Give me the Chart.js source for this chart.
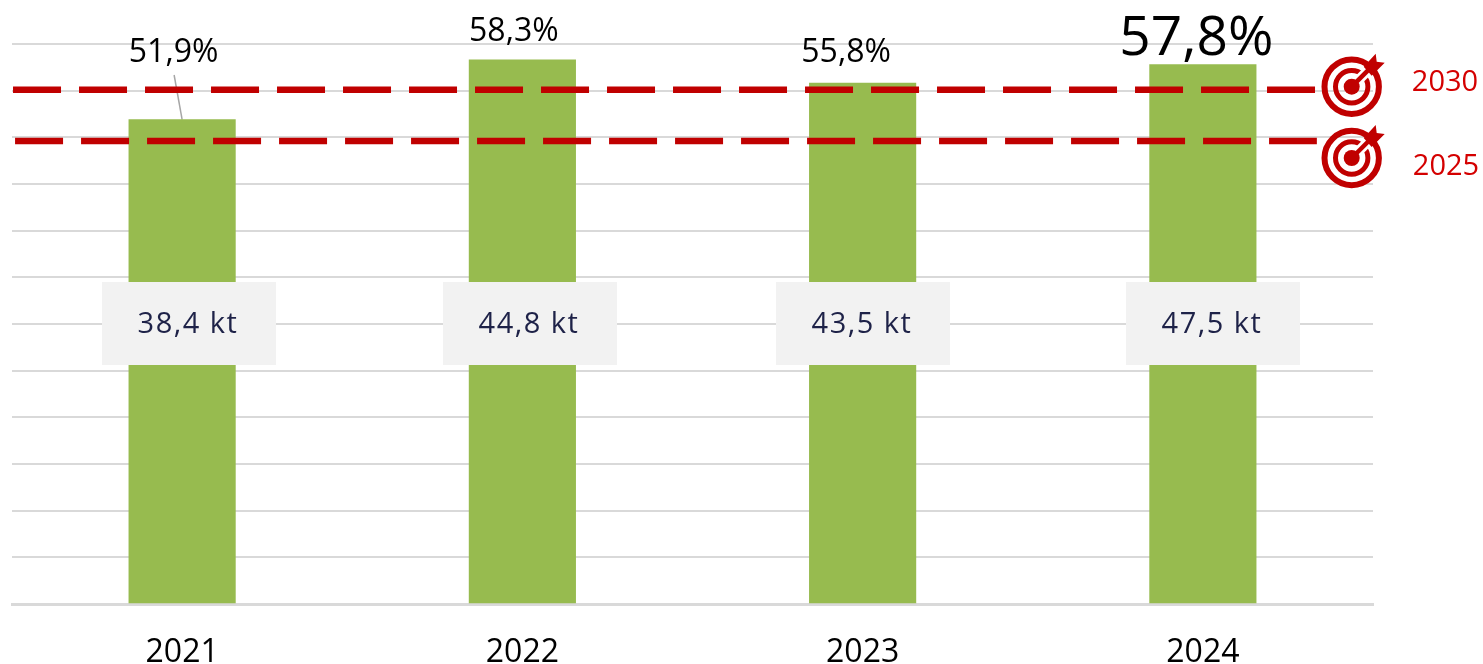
<!DOCTYPE html>
<html>
<head>
<meta charset="utf-8">
<title>Chart</title>
<script src="https://cdn.jsdelivr.net/npm/chart.js@4"></script>
<style>
  html, body { margin: 0; padding: 0; background: #fff; overflow: hidden; }
  canvas { display: block; }
</style>
</head>
<body>
<canvas id="chart" width="1483" height="664"></canvas>
<script>
// === Data ===
var years = ['2021', '2022', '2023', '2024']
var shares = [51.9, 58.3, 55.8, 57.8]
var shareLabels = ['51,9%', '58,3%', '55,8%', '57,8%']
var tonnage = ['38,4 kt', '44,8 kt', '43,5 kt', '47,5 kt']
var targetNames = ['2030', '2025']
var targetValues = [55.1, 49.6]

var FONT = '"Open Sans"'
var RED = '#c00000'

// === Draws the target icon ===
function drawTarget(ctx, x, y) {
    ctx.save()
    ctx.strokeStyle = RED
    ctx.fillStyle = RED
    ctx.lineWidth = 6
    ctx.beginPath(); ctx.arc(x, y, 27.2, 0, Math.PI * 2); ctx.stroke()
    ctx.lineWidth = 5
    ctx.beginPath(); ctx.arc(x, y, 16.2, 0, Math.PI * 2); ctx.stroke()
    // white cut for the arrow
    ctx.strokeStyle = '#fff'
    ctx.lineWidth = 10
    ctx.beginPath(); ctx.moveTo(x + 4, y - 4); ctx.lineTo(x + 30, y - 30); ctx.stroke()
    ctx.strokeStyle = RED
    ctx.lineWidth = 4.5
    ctx.beginPath(); ctx.moveTo(x, y); ctx.lineTo(x + 20, y - 20); ctx.stroke()
    ctx.beginPath(); ctx.arc(x, y, 8, 0, Math.PI * 2); ctx.fill()
    // fletching
    ctx.beginPath()
    ctx.moveTo(x + 12, y - 20)
    ctx.lineTo(x + 24, y - 33)
    ctx.lineTo(x + 25, y - 25)
    ctx.lineTo(x + 33, y - 24)
    ctx.lineTo(x + 20, y - 11)
    ctx.closePath()
    ctx.fill()
    ctx.restore()
}

// === Text, boxes and icons on top of the chart ===
var labelOffsets = [[-8.5, 53, 32], [-8.5, 32, 32], [-16.5, 53, 32], [-6.5, 39, 55]]
var boxCenters = [189, 530, 863, 1213]
var targetDrawn = [[86.7, 83, 1445], [158, 167, 1446]]

var overlay = {
    id: 'overlay',
    beforeDatasetsDraw: function(chart) {
        // leader line of the first label
        var ctx = chart.ctx
        var bar = chart.getDatasetMeta(0).data[0]
        ctx.save()
        ctx.strokeStyle = '#a6a6a6'
        ctx.lineWidth = 1.5
        ctx.beginPath()
        ctx.moveTo(bar.x - 8, 75)
        ctx.lineTo(bar.x, bar.y)
        ctx.stroke()
        ctx.restore()
    },
    afterDatasetsDraw: function(chart) {
        var ctx = chart.ctx
        var bars = chart.getDatasetMeta(0).data
        ctx.save()
        ctx.textAlign = 'center'
        ctx.textBaseline = 'middle'

        for (var i = 0; i < bars.length; i++) {
            var o = labelOffsets[i]
            ctx.fillStyle = '#000'
            ctx.font = o[2] + 'px ' + FONT
            ctx.fillText(shareLabels[i], bars[i].x + o[0], o[1])

            ctx.fillStyle = '#f2f2f2'
            ctx.fillRect(boxCenters[i] - 87, 282, 174, 83)
            ctx.fillStyle = '#1e2248'
            ctx.font = '29px ' + FONT
            ctx.letterSpacing = '1.5px'
            ctx.fillText(tonnage[i], boxCenters[i] - 1, 325)
            ctx.letterSpacing = '0px'
        }

        for (var t = 0; t < targetNames.length; t++) {
            drawTarget(ctx, 1351.7, targetDrawn[t][0])
            ctx.fillStyle = '#d40000'
            ctx.font = '29px ' + FONT
            ctx.fillText(targetNames[t], targetDrawn[t][2], targetDrawn[t][1])
        }
        ctx.restore()
    }
}

// === Config Graph ===
function targetLine(value, from, to) {
    return {
        type: 'line',
        xAxisID: 'xLine',
        order: 1,
        data: [{ x: from, y: value }, { x: to, y: value }],
        borderColor: RED,
        borderWidth: 6.5,
        borderDash: [48, 18],
        pointRadius: 0,
        fill: false,
        tension: 0,
    }
}

var config = {
    type: 'bar',
    data: {
        labels: years,
        datasets: [
            {
                data: shares,
                backgroundColor: '#97bb4f',
                barThickness: 106.5,
                grouped: false,
                order: 2,
            },
            targetLine(targetValues[0], 0.003, 3.83),
            targetLine(targetValues[1], 0.009, 3.835),
        ],
    },
    options: {
        responsive: false,
        animation: false,
        layout: {
            padding: { top: 44, left: 12, right: 110, bottom: 0 },
        },
        plugins: {
            legend: false,
            tooltip: { enabled: false },
        },
        scales: {
            x: {
                grid: { display: false },
                border: { color: '#d9d9d9', width: 3 },
                ticks: {
                    color: '#000',
                    font: { family: FONT, size: 32 },
                    padding: 22,
                    maxRotation: 0,
                },
                afterFit: function(scale) { scale.height = 60 },
            },
            xLine: {
                type: 'linear',
                display: false,
                offset: false,
                min: 0,
                max: 4,
            },
            y: {
                min: 0,
                max: 60,
                grid: { color: '#d9d9d9', lineWidth: 2, drawTicks: false },
                border: { display: false },
                ticks: { display: false, stepSize: 5 },
                afterFit: function(scale) { scale.width = 0 },
            },
        },
    },
    plugins: [overlay],
}

new Chart(document.getElementById('chart').getContext('2d'), config)
</script>
</body>
</html>
